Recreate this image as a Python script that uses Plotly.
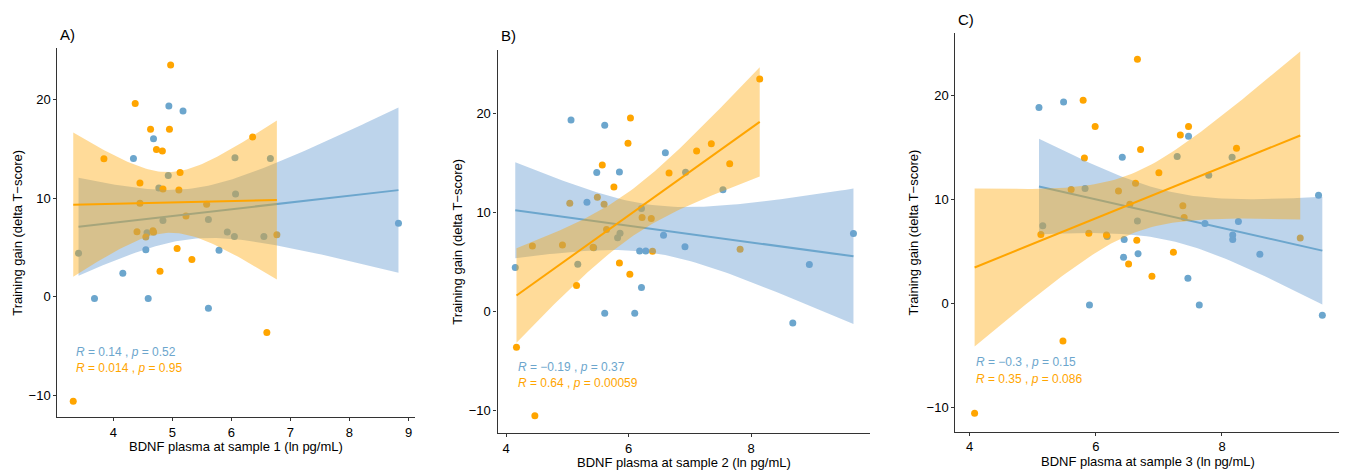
import numpy as np
import plotly.graph_objects as go

# ---------------- data ----------------
# Panel A: BDNF sample 1
a_blue_x = [3.41, 3.68, 4.16, 4.34, 4.55, 4.59, 4.57, 4.68, 4.77, 4.84, 4.93, 4.94, 5.18,
            5.61, 5.61, 5.79, 5.93, 6.05, 6.06, 6.07, 6.55, 6.66, 8.83]
a_blue_y = [4.43, -0.17, 2.40, 14.04, 4.77, -0.17, 6.50, 16.04, 11.03, 7.75, 12.30, 19.36, 18.85,
            7.85, -1.15, 4.74, 6.57, 6.13, 14.10, 10.42, 6.13, 14.04, 7.48]
a_orange_x = [3.32, 4.97, 4.37, 4.63, 4.95, 6.36, 4.73, 4.83, 3.84, 5.13, 4.45, 4.84, 5.11,
              4.45, 5.58, 5.23, 4.40, 4.67, 4.55, 6.77, 5.08, 5.33, 4.79, 6.60, 4.68]
a_orange_y = [-10.58, 23.50, 19.60, 17.00, 17.00, 16.20, 14.95, 14.80, 14.00, 12.60, 11.56, 10.95, 10.85,
              9.50, 9.40, 8.20, 6.60, 6.70, 6.07, 6.30, 4.90, 3.80, 2.60, -3.60, 6.55]

# Panel B: BDNF sample 2
b_blue_x = [4.15, 5.06, 5.61, 5.48, 5.32, 5.17, 5.43, 5.61, 5.82, 5.86, 5.85, 6.10, 6.18, 6.28,
            6.21, 6.21, 6.57, 6.60, 6.92, 6.93, 7.54, 8.68, 8.95, 9.67]
b_blue_y = [4.44, 19.33, 18.79, 14.02, 11.03, 4.77, 6.45, -0.17, 7.46, 7.90, 14.08, -0.17, 6.12, 6.12,
            10.39, 2.42, 7.70, 16.03, 6.55, 14.05, 12.30, -1.14, 4.74, 7.87]
b_orange_x = [4.17, 4.47, 8.14, 6.03, 5.99, 7.35, 7.11, 7.65, 5.57, 6.66, 5.76, 5.49, 5.04, 5.60,
              6.22, 6.37, 5.64, 4.43, 4.92, 5.42, 6.39, 7.82, 5.85, 6.02, 5.15]
b_orange_y = [-3.60, -10.52, 23.46, 19.53, 16.97, 16.94, 16.20, 14.92, 14.79, 13.98, 12.57, 11.53, 10.92, 10.82,
              9.48, 9.38, 8.27, 6.62, 6.72, 6.49, 6.08, 6.29, 4.91, 3.76, 2.62]

# Panel C: BDNF sample 3
c_blue_x = [5.10, 5.49, 5.16, 5.83, 5.90, 6.18, 6.42, 6.44, 6.45, 6.66, 6.67, 7.29, 7.46, 7.47,
            7.64, 7.73, 7.79, 8.16, 8.17, 8.17, 8.26, 8.60, 9.53, 9.59]
c_blue_y = [18.83, 19.37, 7.49, 11.05, -0.13, 6.44, 14.06, 4.45, 6.15, 7.94, 4.80, 14.12, 2.43, 16.07,
            -0.13, 7.69, 12.33, 14.06, 6.60, 6.15, 7.88, 4.74, 10.41, -1.12]
c_orange_x = [4.08, 5.48, 6.66, 5.80, 5.99, 7.47, 7.34, 6.71, 8.23, 5.82, 7.00, 6.63, 5.61, 6.36,
              7.38, 6.54, 7.40, 5.13, 5.89, 6.17, 6.65, 9.24, 7.23, 6.52, 6.89]
c_orange_y = [-10.53, -3.59, 23.47, 19.53, 17.00, 17.00, 16.20, 14.79, 14.92, 13.99, 12.58, 11.56, 10.95, 10.82,
              9.41, 9.54, 8.26, 6.63, 6.76, 6.60, 6.08, 6.31, 4.93, 3.81, 2.63]

panel_letters = ["A)", "B)", "C)"]
x_titles = ["BDNF plasma at sample 1 (ln pg/mL)",
            "BDNF plasma at sample 2 (ln pg/mL)",
            "BDNF plasma at sample 3 (ln pg/mL)"]
y_title = "Training gain (delta T\u2212score)"
blue_labels = ["<i>R</i> = 0.14 , <i>p</i> = 0.52",
               "<i>R</i> = \u22120.19 , <i>p</i> = 0.37",
               "<i>R</i> = \u22120.3 , <i>p</i> = 0.15"]
orange_labels = ["<i>R</i> = 0.014 , <i>p</i> = 0.95",
                 "<i>R</i> = 0.64 , <i>p</i> = 0.00059",
                 "<i>R</i> = 0.35 , <i>p</i> = 0.086"]

panels = [
    (a_blue_x, a_blue_y, a_orange_x, a_orange_y),
    (b_blue_x, b_blue_y, b_orange_x, b_orange_y),
    (c_blue_x, c_blue_y, c_orange_x, c_orange_y),
]

# ---------------- styling / layout ----------------
OFF = 8                      # page body margin of the html page
W, H = 1347 - OFF, 470 - OFF  # figure size so that it fills the window
BLUE = "#6CA6CD"
ORANGE = "#FFA500"
BLUE_FILL = "rgba(108,160,210,0.45)"
ORANGE_FILL = "rgba(255,165,0,0.40)"
FONT = "Liberation Sans, Arial, Helvetica, sans-serif"


def px_x(p):
    return (p - OFF) / W


def px_y(p):
    return 1 - (p - OFF) / H


# window-pixel boxes of the plot areas: (left, right, top, bottom)
boxes = [(57.3, 415.0, 48.3, 417.3),
         (497.5, 870.0, 50.0, 433.3),
         (955.3, 1340.0, 33.3, 431.7)]
x_ranges = [[3.05, 9.11], [3.86, 9.94], [3.774, 9.87]]
y_ranges = [[-12.2, 25.2], [-12.28, 26.39], [-12.3, 25.96]]
x_ticks = [[4, 5, 6, 7, 8, 9], [4, 6, 8], [4, 6, 8]]
label_x = [3.33, 4.16, 4.07]
label_y = [-5.57, -5.63, -5.59]
label_dy = [1.63, 1.62, 1.67]
ytitle_px = [18, 458, 913]
xtitle_gap = [29.5, 29.5, 30]


def t975(df):
    z = 1.959963985
    g1 = (z**3 + z) / 4
    g2 = (5 * z**5 + 16 * z**3 + 3 * z) / 96
    g3 = (3 * z**7 + 19 * z**5 + 17 * z**3 - 15 * z) / 384
    return z + g1 / df + g2 / df**2 + g3 / df**3


def lm_band(x, y, n_grid=80):
    x = np.asarray(x, float)
    y = np.asarray(y, float)
    n = len(x)
    b, a = np.polyfit(x, y, 1)
    resid = y - (a + b * x)
    s = np.sqrt(np.sum(resid**2) / (n - 2))
    xm = x.mean()
    sxx = np.sum((x - xm) ** 2)
    xg = np.linspace(x.min(), x.max(), n_grid)
    yg = a + b * xg
    se = s * np.sqrt(1.0 / n + (xg - xm) ** 2 / sxx)
    t = t975(n - 2)
    return xg, yg, yg - t * se, yg + t * se


fig = go.Figure()
annotations = []
layout_axes = {}

for i, (bx, by, ox, oy) in enumerate(panels):
    k = "" if i == 0 else str(i + 1)
    xa, ya = "x" + k, "y" + k
    L, R, T, B = boxes[i]
    layout_axes["xaxis" + k] = dict(
        domain=[px_x(L), min(px_x(R), 1.0)], range=x_ranges[i], anchor=ya, automargin=False,
        tickvals=x_ticks[i], ticks="outside", ticklen=3, tickwidth=1.1, tickcolor="#333333",
        showline=True, linecolor="#333333", linewidth=1.1, showgrid=False, zeroline=False,
        tickfont=dict(family=FONT, size=13, color="#000000"),
    )
    layout_axes["yaxis" + k] = dict(
        domain=[px_y(B), px_y(T)], range=y_ranges[i], anchor=xa, automargin=False,
        tickvals=[-10, 0, 10, 20], ticktext=["\u221210", "0", "10", "20"],
        ticks="outside", ticklen=3, tickwidth=1.1, tickcolor="#333333",
        showline=True, linecolor="#333333", linewidth=1.1, showgrid=False, zeroline=False,
        tickfont=dict(family=FONT, size=13, color="#000000"),
    )

    # points
    fig.add_trace(go.Scatter(x=bx, y=by, mode="markers", xaxis=xa, yaxis=ya,
                             marker=dict(color=BLUE, size=7, line=dict(width=0)),
                             showlegend=False, hoverinfo="skip"))
    fig.add_trace(go.Scatter(x=ox, y=oy, mode="markers", xaxis=xa, yaxis=ya,
                             marker=dict(color=ORANGE, size=7, line=dict(width=0)),
                             showlegend=False, hoverinfo="skip"))

    # smooths: ribbon + line, blue first then orange
    for gx, gy, col, fill in [(bx, by, BLUE, BLUE_FILL), (ox, oy, ORANGE, ORANGE_FILL)]:
        xg, yg, lo, hi = lm_band(gx, gy)
        fig.add_trace(go.Scatter(x=np.concatenate([xg, xg[::-1]]),
                                 y=np.concatenate([hi, lo[::-1]]),
                                 mode="lines", fill="toself", fillcolor=fill,
                                 line=dict(width=0), xaxis=xa, yaxis=ya,
                                 showlegend=False, hoverinfo="skip"))
        fig.add_trace(go.Scatter(x=xg, y=yg, mode="lines", line=dict(color=col, width=2),
                                 xaxis=xa, yaxis=ya, showlegend=False, hoverinfo="skip"))

    # correlation labels
    annotations.append(dict(x=label_x[i], y=label_y[i], xref=xa, yref=ya, text=blue_labels[i],
                            showarrow=False, xanchor="left", yanchor="middle",
                            font=dict(family=FONT, size=12, color=BLUE)))
    annotations.append(dict(x=label_x[i], y=label_y[i] - label_dy[i], xref=xa, yref=ya,
                            text=orange_labels[i], showarrow=False, xanchor="left", yanchor="middle",
                            font=dict(family=FONT, size=12, color=ORANGE)))
    # panel letters
    annotations.append(dict(x=px_x(L + 1), y=px_y(T - 14), xref="paper", yref="paper",
                            text=panel_letters[i], showarrow=False, xanchor="left", yanchor="middle",
                            font=dict(family=FONT, size=15, color="#000000")))
    # axis titles
    annotations.append(dict(x=px_x(ytitle_px[i]), y=px_y((T + B) / 2), xref="paper", yref="paper",
                            text=y_title, textangle=-90, showarrow=False,
                            xanchor="center", yanchor="middle",
                            font=dict(family=FONT, size=13, color="#000000")))
    annotations.append(dict(x=px_x((L + R) / 2), y=px_y(B + xtitle_gap[i]), xref="paper",
                            yref="paper", text=x_titles[i], showarrow=False,
                            xanchor="center", yanchor="middle",
                            font=dict(family=FONT, size=13, color="#000000")))

fig.update_layout(
    width=W, height=H, autosize=False,
    margin=dict(l=0, r=0, t=0, b=0),
    paper_bgcolor="white", plot_bgcolor="white",
    annotations=annotations,
    **layout_axes,
)

fig.write_html("out.html")
